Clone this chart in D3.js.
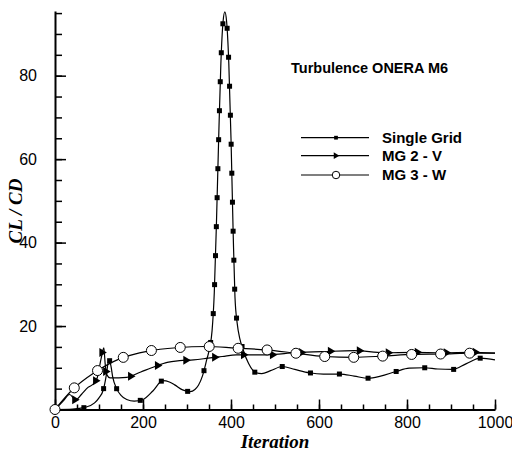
<!DOCTYPE html>
<html>
<head>
<meta charset="utf-8">
<script src="https://cdn.jsdelivr.net/npm/d3@7"></script>
<style>
  body{margin:0;background:#fff;}
  .tick text{font-family:"Liberation Sans",Arial,sans-serif;font-size:16px;fill:#000;}
  .axisTitle{font-family:"Liberation Serif","Times New Roman",serif;font-style:italic;font-weight:bold;font-size:19px;}
  .lbl{font-family:"Liberation Sans",Arial,sans-serif;font-weight:bold;}
</style>
</head>
<body>
<script>
//iteration / CL-CD values
var sgIter=[0,40,68,90,100,110,117,121,124,127,131,140,150,163,180,200,223,245,260,272,290,307,318,326,335,345,352,357,362,367,372,377,382,386,390,395,400,405,409,414,420,427,440,457,470,490,517,545,578,610,648,680,712,740,775,805,839,870,904,935,967,1000];
var sgVal=[0,0.1,0.5,1.6,2.8,4.8,8.5,11.3,11.7,10.5,7.9,5,3.4,2.4,2.0,2.4,4.5,6.9,6.6,5.9,4.7,4.3,4.8,5.8,8,12,15,18.9,28,45,65,83,93,95.3,93,83,65,42,27,20.7,17,14.5,11,8.8,8.6,9.3,10.3,9.6,8.8,8.5,8.5,8.0,7.5,8.0,9.1,9.9,10.0,9.7,9.6,11,12.3,11.9];

var mg2Iter=[0,20,33,47,60,75,89,96,105,111,114,118,125,145,163,195,227,255,283,315,348,380,412,482,546,614,680,748,814,881,947,1000];
var mg2Val=[0,2.2,3.6,2.3,3.6,5.3,6.3,7.6,12.3,14.8,11,8.3,7.6,7.6,7.7,9.0,10.3,11.3,11.7,11.9,12.3,12.7,13.1,13.1,13.6,13.9,14.1,13.6,13.7,13.6,13.7,13.5];

var mg3Iter=[0,40,89,148,212,276,345,411,479,546,612,680,746,813,880,948,1000];
var mg3Val=[0,4.8,8.8,12.2,14.0,14.8,15.1,14.7,14.3,13.5,12.7,12.5,12.8,13.2,13.3,13.5,13.5];

var seriesNames=["Single Grid","MG 2 - V","MG 3 - W"];
var titleText="Turbulence ONERA M6";
var xTicks=[0,200,400,600,800,1000];
var yTicks=[20,40,60,80];

window.onload=function(){
	var w=512,h=452;
	var svg=d3.select("body").append("svg")
		.attr("width",w)
		.attr("height",h);

	var x=d3.scaleLinear().domain([0,1000]).range([55,495]);
	var y=d3.scaleLinear().domain([0,95.5]).range([409.5,11]);

	//minor ticks first (short), then major ones with labels
	svg.append("g")
		.attr("transform","translate(0,409.5)")
		.call(d3.axisTop(x).tickValues(d3.range(0,1001,50)).tickSize(5).tickFormat(""))
		.call(function(g){g.select(".domain").remove();});
	svg.append("g")
		.attr("transform","translate(55,0)")
		.call(d3.axisRight(y).tickValues(d3.range(0,96,5)).tickSize(7).tickFormat(""))
		.call(function(g){g.select(".domain").remove();});

	var xAxis=svg.append("g")
		.attr("transform","translate(0,409.5)")
		.call(d3.axisBottom(x).tickValues(xTicks).tickSize(-10).tickPadding(20).tickSizeOuter(0).tickFormat(d3.format("d")));
	xAxis.selectAll(".tick text").attr("dy","-0.1em");

	var yAxis=svg.append("g")
		.attr("transform","translate(55,0)")
		.call(d3.axisLeft(y).tickValues(yTicks).tickSize(-11).tickPadding(18).tickSizeOuter(0));

	svg.selectAll(".domain").attr("stroke-width",2);
	svg.selectAll(".tick line").attr("stroke-width",1.5);

	svg.append("text").attr("class","axisTitle")
		.attr("transform","translate(22,211) rotate(-90)")
		.attr("text-anchor","middle")
		.text("CL / CD");
	svg.append("text").attr("class","axisTitle")
		.attr("x",275).attr("y",448)
		.attr("text-anchor","middle")
		.text("Iteration");

	svg.append("text").attr("class","lbl")
		.attr("x",291).attr("y",73.3)
		.style("font-size","14.5px")
		.text(titleText);

	var line=d3.line()
		.x(function(d){return x(d[0]);})
		.y(function(d){return y(d[1]);})
		.curve(d3.curveMonotoneX);

	//marker drawers, s = scale factor
	var symbols=[
		function(g,px,py,s){g.append("rect").attr("x",px-2.5*s).attr("y",py-2.5*s).attr("width",5*s).attr("height",5*s).attr("fill","#000");},
		function(g,px,py,s){g.append("path").attr("d","M"+(px-3*s)+","+(py-4.5*s)+"L"+(px+4.5*s)+","+py+"L"+(px-3*s)+","+(py+4.5*s)+"Z").attr("fill","#000");},
		function(g,px,py,s){g.append("circle").attr("cx",px).attr("cy",py).attr("r",5*s).attr("fill","#fff").attr("stroke","#000").attr("stroke-width",1);}
	];

	var allSeries=[d3.zip(sgIter,sgVal),d3.zip(mg2Iter,mg2Val),d3.zip(mg3Iter,mg3Val)];

	allSeries.forEach(function(pts,i){
		var g=svg.append("g");
		var path=g.append("path")
			.datum(pts)
			.attr("d",line)
			.attr("fill","none")
			.attr("stroke","#000")
			.attr("stroke-width",1.2);
		//symbols spaced by distance along the curve
		var node=path.node(),len=node.getTotalLength();
		for(var d=0;d<=len;d+=29){
			var p=node.getPointAtLength(d);
			symbols[i](g,p.x,p.y,1);
		}
	});

	//legend
	var legY=[137.7,155.7,175];
	seriesNames.forEach(function(name,i){
		var g=svg.append("g");
		g.append("line").attr("x1",301).attr("x2",369).attr("y1",legY[i]).attr("y2",legY[i])
			.attr("stroke","#000").attr("stroke-width",1.2);
		symbols[i](g,336,legY[i],0.75);
		g.append("text").attr("class","lbl")
			.attr("x",382).attr("y",legY[i]+4.8)
			.style("font-size","15px")
			.text(name);
	});
};
</script>
</body>
</html>
